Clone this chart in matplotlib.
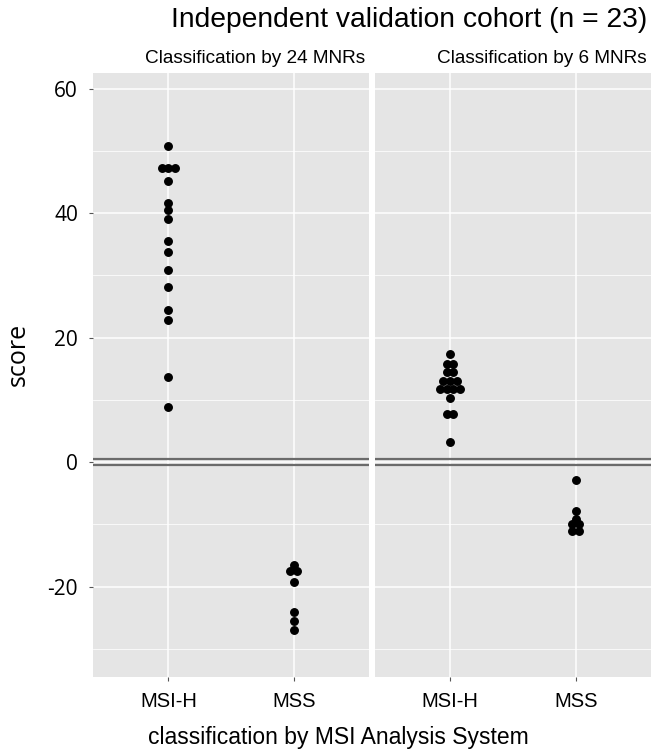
import matplotlib.pyplot as plt
from collections import Counter

plt.rcParams['font.family'] = ['Liberation Sans', 'DejaVu Sans']

categories = ["MSI-H", "MSS"]
panels = ["Classification by 24 MNRs", "Classification by 6 MNRs"]

# scores (ties are stacked side by side)
mnr24_msih = [50.8, 47.3, 47.3, 47.3, 45.2, 41.6, 40.5, 39.0, 35.6, 33.8,
              30.9, 28.2, 24.4, 22.8, 13.6, 8.8]
mnr24_mss = [-16.5, -17.5, -17.5, -19.2, -24.0, -25.5, -27.0]
mnr6_msih = [17.3, 15.8, 15.8, 14.5, 14.5, 13.0, 13.0, 13.0,
             11.7, 11.7, 11.7, 11.7, 10.3, 7.7, 7.7, 3.3]
mnr6_mss = [-2.9, -7.8, -9.1, -9.9, -9.9, -11.0, -11.0]

panel_data = [[mnr24_msih, mnr24_mss], [mnr6_msih, mnr6_mss]]

fig = plt.figure(figsize=(6.51, 7.55), dpi=100)
ax1 = fig.add_axes([0.1433, 0.1033, 0.4235, 0.80])
ax2 = fig.add_axes([0.5756, 0.1033, 0.4244, 0.80])

dot_w = 0.053  # horizontal spacing of tied dots, in category units

for ax, title, groups in zip([ax1, ax2], panels, panel_data):
    ax.set_facecolor("#e5e5e5")
    for i, vals in enumerate(groups):
        counts = Counter(vals)
        xs, ys = [], []
        for v, n in counts.items():
            for k in range(n):
                xs.append(i + 1 + (k - (n - 1) / 2) * dot_w)
                ys.append(v)
        ax.plot(xs, ys, 'o', color='black', markersize=5.4, zorder=3)
    ax.axhline(0.5, color="#6b6b6b", linewidth=1.6, zorder=2)
    ax.axhline(-0.5, color="#6b6b6b", linewidth=1.6, zorder=2)
    ax.set_xlim(0.4, 2.6)
    ax.set_ylim(-34.5, 62.5)
    ax.set_xticks([1, 2])
    ax.set_xticklabels(categories, fontsize=14.5)
    ax.set_yticks([-20, 0, 20, 40, 60])
    ax.set_yticks([-30, -10, 10, 30, 50], minor=True)
    ax.grid(True, which="major", color="white", linewidth=1.1, zorder=0)
    ax.grid(True, which="minor", axis="y", color="white", linewidth=0.55, zorder=0)
    ax.set_axisbelow(True)
    for s in ax.spines.values():
        s.set_visible(False)
    ax.tick_params(axis="x", length=3, color="#555555", pad=8)
    ax.tick_params(axis="y", which="minor", length=0)
    ax.text(0.985, 1.01, title, transform=ax.transAxes, fontsize=13.7,
            ha="right", va="bottom")

ax1.set_yticklabels(["-20", "0", "20", "40", "60"], fontsize=15, family=["Open Sans", "DejaVu Sans"])
ax1.tick_params(axis="y", length=3, color="#555555", pad=8)
ax2.tick_params(axis="y", length=0, labelleft=False)

fig.text(0.995, 0.973, "Independent validation cohort (n = 23)", fontsize=20.3, ha="right", va="center")
fig.text(0.028, 0.53, "score", fontsize=18, rotation=90, ha="center", va="center",
         family=["Open Sans", "DejaVu Sans"])
fig.text(0.52, 0.023, "classification by MSI Analysis System", fontsize=16.5, ha="center", va="center")

fig.savefig("out.png", dpi=100)
